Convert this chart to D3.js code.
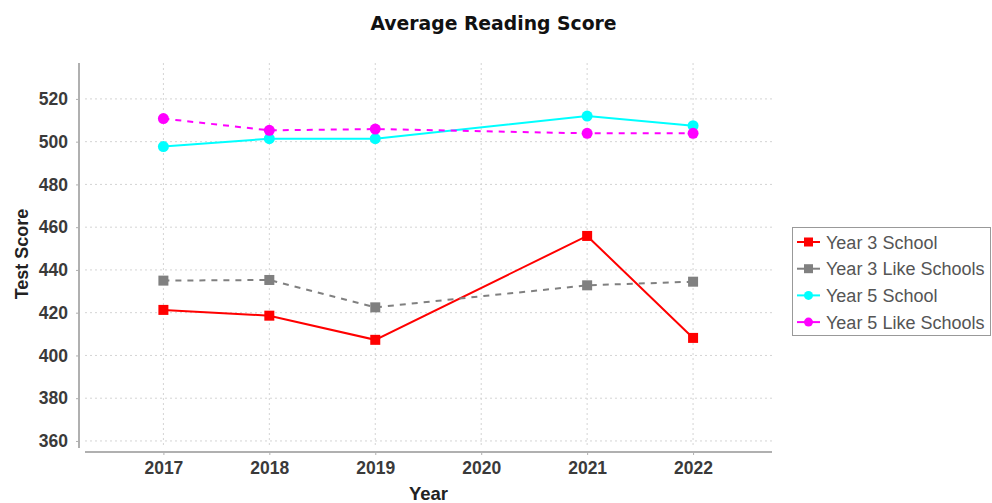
<!DOCTYPE html>
<html><head><meta charset="utf-8">
<script src="https://cdn.jsdelivr.net/npm/d3@7"></script>
<style>body{margin:0;background:#fff}svg{display:block}</style>
</head><body><svg id="c" width="992" height="503"></svg>
<script>
const years = [2017, 2018, 2019, 2020, 2021, 2022];
const dataYears = [2017, 2018, 2019, 2021, 2022];
const year3School = [421.3, 418.6, 407.3, 455.9, 408.2];
const year3Like = [435.0, 435.3, 422.5, 432.8, 434.5];
const year5School = [497.7, 501.4, 501.4, 512.0, 507.5];
const year5Like = [510.8, 505.3, 505.9, 503.9, 503.9];
const yTicks = [360, 380, 400, 420, 440, 460, 480, 500, 520];
const seriesNames = ["Year 3 School", "Year 3 Like Schools", "Year 5 School", "Year 5 Like Schools"];

const series = [
  {name: seriesNames[0], values: year3School, color: "#ff0000", dash: null, shape: "square"},
  {name: seriesNames[1], values: year3Like, color: "#808080", dash: "6,6", shape: "square"},
  {name: seriesNames[2], values: year5School, color: "#00ffff", dash: null, shape: "circle"},
  {name: seriesNames[3], values: year5Like, color: "#ff00ff", dash: "6,6", shape: "circle"}
];

const svg = d3.select("#c");
const font = "'Liberation Sans', Arial, sans-serif";
const titleFont = "'DejaVu Sans', Verdana, sans-serif";
const L = 85, R = 772, T = 63, B = 448;
const x = d3.scaleLinear().domain([2016.26, 2022.745]).range([L, R]);
const y = d3.scaleLinear().domain([356.7, 536.8]).range([B, T]);

// grid
const g = svg.append("g");
g.selectAll(".hg").data(yTicks).join("line")
  .attr("x1", L).attr("x2", R).attr("y1", d => y(d)).attr("y2", d => y(d))
  .attr("stroke", "#d4d4d4").attr("stroke-width", 1).attr("stroke-dasharray", "2,3");
g.selectAll(".vg").data(years).join("line")
  .attr("x1", d => x(d)).attr("x2", d => x(d)).attr("y1", T).attr("y2", B)
  .attr("stroke", "#d4d4d4").attr("stroke-width", 1).attr("stroke-dasharray", "2,3");

// axes
const yAxis = svg.append("g").attr("transform", "translate(79,0)")
  .call(d3.axisLeft(y).tickValues(yTicks).tickSize(3).tickPadding(8));
const xAxis = svg.append("g").attr("transform", "translate(0,452)")
  .call(d3.axisBottom(x).tickValues(years).tickFormat(d3.format("d")).tickSize(3).tickPadding(7));
[yAxis, xAxis].forEach(a => {
  a.select(".domain").attr("stroke", "#b0b0b0").attr("stroke-width", 2);
  a.selectAll(".tick line").attr("stroke", "#b0b0b0");
  a.selectAll(".tick text").attr("fill", "#3a3a3a").attr("font-family", font)
    .attr("font-size", 17.5).attr("font-weight", "bold");
});
yAxis.select(".domain").attr("d", `M0,${T}V${B}`);
xAxis.select(".domain").attr("d", `M${L},0H${R}`);

// lines
const line = d3.line().x((d, i) => x(dataYears[i])).y(d => y(d));
series.forEach(s => {
  svg.append("path").attr("d", line(s.values)).attr("fill", "none")
    .attr("stroke", s.color).attr("stroke-width", 2)
    .attr("stroke-dasharray", s.dash);
  if (s.shape === "square") {
    svg.selectAll(null).data(s.values).join("rect")
      .attr("x", (d, i) => x(dataYears[i]) - 5).attr("y", d => y(d) - 5)
      .attr("width", 10).attr("height", 10).attr("fill", s.color);
  } else {
    svg.selectAll(null).data(s.values).join("circle")
      .attr("cx", (d, i) => x(dataYears[i])).attr("cy", d => y(d))
      .attr("r", 5.5).attr("fill", s.color);
  }
});

// title & axis labels
svg.append("text").attr("x", 493.5).attr("y", 30).attr("text-anchor", "middle")
  .attr("font-family", titleFont).attr("font-size", 18.8).attr("font-weight", "bold").attr("fill", "#111")
  .text("Average Reading Score");
svg.append("text").attr("x", (L + R) / 2).attr("y", 500).attr("text-anchor", "middle")
  .attr("font-family", font).attr("font-size", 18.5).attr("font-weight", "bold").attr("fill", "#222")
  .text("Year");
svg.append("text").attr("transform", `translate(28,254) rotate(-90)`).attr("text-anchor", "middle")
  .attr("font-family", font).attr("font-size", 18).attr("font-weight", "bold").attr("fill", "#222")
  .text("Test Score");

// legend
const lg = svg.append("g");
lg.append("rect").attr("x", 792.5).attr("y", 227.5).attr("width", 198).attr("height", 108)
  .attr("fill", "#fff").attr("stroke", "#999");
series.forEach((s, i) => {
  const cy = 242 + i * 26.7;
  lg.append("line").attr("x1", 797).attr("x2", 820).attr("y1", cy).attr("y2", cy)
    .attr("stroke", s.color).attr("stroke-width", 2);
  if (s.shape === "square") lg.append("rect").attr("x", 804).attr("y", cy - 4.5).attr("width", 9).attr("height", 9).attr("fill", s.color);
  else lg.append("circle").attr("cx", 808.5).attr("cy", cy).attr("r", 4.5).attr("fill", s.color);
  lg.append("text").attr("x", 826).attr("y", cy + 6.5).attr("font-family", font).attr("font-size", 18)
    .attr("fill", "#555").text(s.name);
});
</script></body></html>
